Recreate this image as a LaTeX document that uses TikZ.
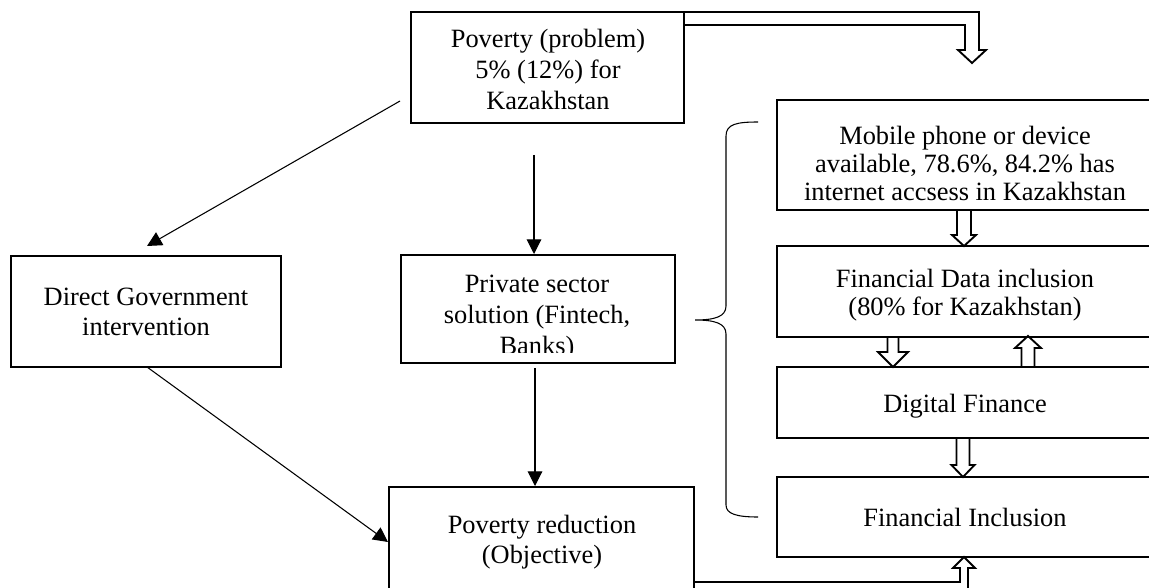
\documentclass[tikz,border=0pt]{standalone}
\usepackage{fontspec}
\setmainfont{Liberation Serif}
\usetikzlibrary{arrows.meta,calc}
% text size and line spacing used in the boxes
\newcommand{\boxfont}[1]{\fontsize{19.8pt}{#1}\selectfont}
% rectangle given by its corners (in pixel units)
\newcommand{\pxbox}[5]{%
  \node[box,anchor=north west,minimum width={(#4-#2)*0.75pt},minimum height={(#5-#3)*0.75pt}] (#1) at (#2,#3) {};}
% vertical block arrow: x, y of base, y of head base, y of tip, half shaft width, half head width
\newcommand{\blockarrow}[6]{%
  \filldraw[hollow] ({#1-#5},#2) -- ({#1-#5},#3) -- ({#1-#6},#3) -- (#1,#4) -- ({#1+#6},#3) -- ({#1+#5},#3) -- ({#1+#5},#2) -- cycle;}
\begin{document}
\begin{tikzpicture}[x={(0.75pt,0)},y={(0,-0.75pt)},
  box/.style={draw,line width=1.7pt,inner sep=0pt,outer sep=0pt},
  lbl/.style={align=center,inner sep=0pt,anchor=base},
  hollow/.style={fill=white,draw,line width=1.4pt,line join=miter},
  arr/.style={line width=0.8pt,-{Triangle[length=11pt,width=11pt]}},
  brace/.style={line width=0.8pt}]
\useasboundingbox (0,0) rectangle (1149,588);
\clip (0,0) rectangle (1149,588);

% block arrows
\filldraw[hollow] (684,12) -- (979,12) -- (979,50) -- (986,50) -- (972,63) -- (958,50) -- (965,50) -- (965,25) -- (684,25) -- cycle;
\filldraw[hollow] (694,582) -- (960,582) -- (960,568) -- (953,568) -- (964,557) -- (975,568) -- (968,568) -- (968,600) -- (694,600) -- cycle;
\blockarrow{964}{210}{235}{246}{7}{12}
\blockarrow{893}{337}{352}{367}{5.5}{15}
\blockarrow{1028}{367}{348}{336}{6.5}{13}
\blockarrow{963}{438}{465}{477}{6.5}{11.5}

% boxes
\pxbox{pov}{411}{12}{684}{123}
\pxbox{gov}{11}{256}{281}{367}
\pxbox{priv}{401}{255}{675}{363}
\pxbox{red}{389}{487}{694}{615}
\pxbox{mob}{777}{100}{1170}{210}
\pxbox{fdi}{777}{246}{1170}{337}
\pxbox{dig}{777}{367}{1170}{438}
\pxbox{fin}{777}{477}{1170}{557}

% texts (base anchor = baseline of the last line)
\node[lbl,font=\boxfont{23.6pt}] (povt) at (548,110) {Poverty (problem)\\5\% (12\%) for\\Kazakhstan};
\node[lbl,font=\boxfont{22.5pt}] (govt) at (146,335) {Direct Government\\intervention};
\begin{scope}
  \clip (401,255) rectangle (675,352);
  \node[lbl,font=\boxfont{23pt}] (privt) at (537,354) {Private sector\\solution (Fintech,\\Banks)};
\end{scope}
\node[lbl,font=\boxfont{22.5pt}] (redt) at (542,563) {Poverty reduction\\(Objective)};
\node[lbl,font=\boxfont{21pt}] (mobt) at (965,200) {Mobile phone or device\\available, 78.6\%, 84.2\% has\\internet accsess in Kazakhstan};
\node[lbl,font=\boxfont{21pt}] (fdit) at (965,315) {Financial Data inclusion\\(80\% for Kazakhstan)};
\node[lbl,font=\boxfont{21pt}] (digt) at (965,412) {Digital Finance};
\node[lbl,font=\boxfont{21pt}] (fint) at (965,526) {Financial Inclusion};

% thin arrows
\coordinate (povL) at (400,101);
\coordinate (govT) at (147,246);
\coordinate (povB) at (534,155);
\coordinate (privT) at (534,254);
\coordinate (privB) at (535,368);
\coordinate (redT) at (535,486);
\coordinate (govB) at (147,367);
\coordinate (redL) at (388,542);
\draw[arr] (povL) -- (govT);
\draw[arr] (povB) -- (privT);
\draw[arr] (privB) -- (redT);
\draw[arr] (govB) -- (redL);

% brace grouping the right-hand column
\draw[brace] (758,122) .. controls (737,122) and (726,124) .. (726,136)
  -- (726,306) .. controls (726,317) and (714,320) .. (695,320)
  .. controls (714,320) and (726,323) .. (726,334)
  -- (726,505) .. controls (726,514) and (737,517) .. (758,517);
\end{tikzpicture}
\end{document}
